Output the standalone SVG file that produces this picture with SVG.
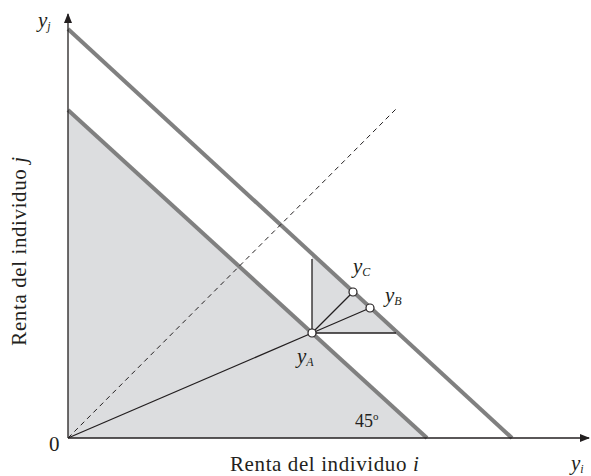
<svg xmlns="http://www.w3.org/2000/svg" width="591" height="476" viewBox="0 0 591 476">
<style>
text{font-family:"Liberation Serif","Times New Roman",serif;fill:#231f20}
.lab{font-size:21px;font-style:italic}
.sub{font-size:12px;font-style:italic}
.ax{font-size:21px}
.title{font-size:21px;letter-spacing:0.6px}
.budget{stroke:#808080;stroke-width:4;fill:none}
.thin{stroke:#231f20;stroke-width:1.3;fill:none}
.pt{fill:#fff;stroke:#231f20;stroke-width:1.2}
</style>
<defs>
<marker id="arr" markerWidth="10" markerHeight="8" refX="9" refY="4" orient="auto" markerUnits="userSpaceOnUse">
<path d="M0,0 L10,4 L0,8 Z" fill="#231f20"/>
</marker>
</defs>
<g id="shading">
<polygon points="68,110 68,438 427,438" fill="#dcdddf"/>
<polygon points="312,254 312,333 398,333" fill="#dcdddf"/>
</g>
<g id="budget-lines">
<line class="budget" x1="68" y1="29" x2="512" y2="438"/>
<line class="budget" x1="68" y1="110" x2="427" y2="438"/>
</g>
<g id="connectors">
<line x1="68" y1="438" x2="398" y2="107" stroke="#231f20" stroke-width="1" stroke-dasharray="5,4"/>
<line class="thin" x1="68" y1="438" x2="312" y2="333"/>
<line class="thin" x1="312" y1="333" x2="312" y2="259"/>
<line class="thin" x1="312" y1="333" x2="396" y2="333"/>
<line class="thin" x1="312" y1="333" x2="353" y2="292"/>
<line class="thin" x1="312" y1="333" x2="370" y2="308"/>
</g>
<g id="axes">
<line x1="68" y1="438" x2="68" y2="14" stroke="#231f20" stroke-width="1.3" marker-end="url(#arr)"/>
<line x1="68" y1="438" x2="589" y2="438" stroke="#231f20" stroke-width="1.3" marker-end="url(#arr)"/>
</g>
<g id="yA">
<circle class="pt" cx="312" cy="333" r="4"/>
<text class="lab" x="297" y="363">y<tspan class="sub" dy="3">A</tspan></text>
</g>
<g id="yC">
<circle class="pt" cx="353" cy="292" r="4"/>
<text class="lab" x="353" y="273">y<tspan class="sub" dy="3">C</tspan></text>
</g>
<g id="yB">
<circle class="pt" cx="370" cy="308" r="4"/>
<text class="lab" x="385" y="302">y<tspan class="sub" dy="3">B</tspan></text>
</g>
<g id="labels">
<text class="lab" x="38" y="27">y<tspan class="sub" dy="3">j</tspan></text>
<text class="lab" x="571" y="470">y<tspan class="sub" dy="3">i</tspan></text>
<text class="ax" x="49" y="451">0</text>
<text x="355" y="427" font-size="18">45<tspan font-size="11" dy="-7">o</tspan></text>
<text class="title" x="230" y="471">Renta del individuo <tspan font-style="italic">i</tspan></text>
<text class="title" transform="translate(26,251) rotate(-90)" text-anchor="middle">Renta del individuo <tspan font-style="italic">j</tspan></text>
</g>
</svg>
